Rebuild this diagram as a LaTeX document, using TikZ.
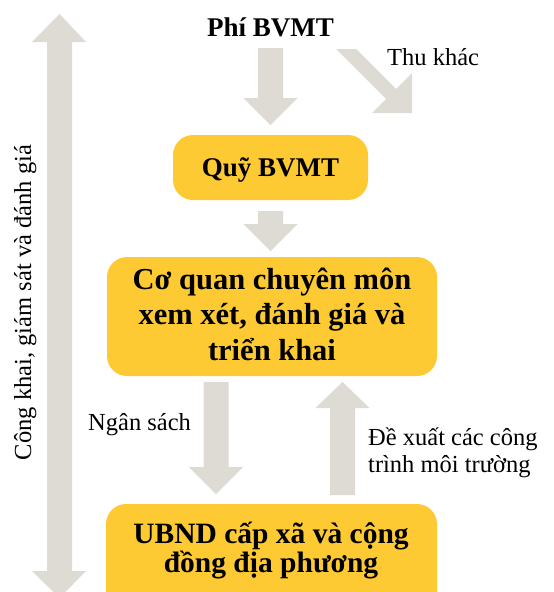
\documentclass[tikz,border=0pt]{standalone}
\usepackage{fontspec}
\setmainfont{Liberation Serif}
\definecolor{gold}{HTML}{FDCA34}
\definecolor{arrowgray}{HTML}{DDDBD3}
\newcommand\blockarrow[4]{% center x, shaft start, head base, tip
  \fill[blk] ({#1-12.5},#2) -- ({#1+12.5},#2) -- ({#1+12.5},#3) -- ({#1+27},#3)
    -- (#1,#4) -- ({#1-27},#3) -- ({#1-12.5},#3) -- cycle;}
\tikzset{
  blk/.style={fill=arrowgray, draw=none},
  box/.style={fill=gold, draw=none, rounded corners=20pt},
  bigtxt/.style={font=\fontsize{27}{32}\selectfont\bfseries, text=black, inner sep=0pt, anchor=base},
  boxtxt/.style={font=\fontsize{30.5}{35}\selectfont\bfseries, text=black, inner sep=0pt, anchor=base},
  ubtxt/.style={font=\fontsize{29.5}{30}\selectfont\bfseries, text=black, inner sep=0pt, anchor=base},
  lbl/.style={font=\fontsize{24.5}{27}\selectfont, text=black, inner sep=0pt, anchor=base west},
}
\begin{document}
\begin{tikzpicture}[x=1pt,y=-1pt]
\clip (0,0) rectangle (554,592);
\fill[white] (0,0) rectangle (554,592);

% left double arrow
\fill[blk] (59.5,14) -- (86,42) -- (72,42) -- (72,571) -- (86,571) -- (59.5,598)
  -- (32,571) -- (47,571) -- (47,42) -- (32,42) -- cycle;
\node[font=\fontsize{24.5}{27}\selectfont, inner sep=0pt, anchor=base, rotate=90] (side) at (31,302.5) {Công khai, giám sát và đánh giá};

% title
\node[bigtxt] (phi) at (270.5,36) {Phí BVMT};

% arrows
\blockarrow{270.5}{48}{98}{125}
\blockarrow{270.5}{211}{224}{251}
\blockarrow{216}{382}{467}{494}
\blockarrow{342.5}{495}{408}{382}
\fill[blk] (336,49) -- (356,49) -- (396,89) -- (412,73) -- (412,113) -- (372,113) -- (386,99) -- cycle;
\node[lbl] (thu) at (387,65) {Thu khác};

% boxes
\fill[box] (173,135) rectangle (368,200);
\node[bigtxt] (quy) at (270.5,176) {Quỹ BVMT};

\fill[box] (107,257) rectangle (437,376);
\node[boxtxt] (cq1) at (272,289) {Cơ quan chuyên môn};
\node[boxtxt] (cq2) at (272,324.5) {xem xét, đánh giá và};
\node[boxtxt] (cq3) at (272,360) {triển khai};

\fill[box] (106,504) rectangle (437,630);
\node[ubtxt] (ub1) at (271,543) {UBND cấp xã và cộng};
\node[ubtxt] (ub2) at (271,572) {đồng địa phương};

\node[lbl] (ngan) at (88,430) {Ngân sách};
\node[lbl] (dx1) at (368,445) {Đề xuất các công};
\node[lbl] (dx2) at (368,472) {trình môi trường};
\end{tikzpicture}
\end{document}
